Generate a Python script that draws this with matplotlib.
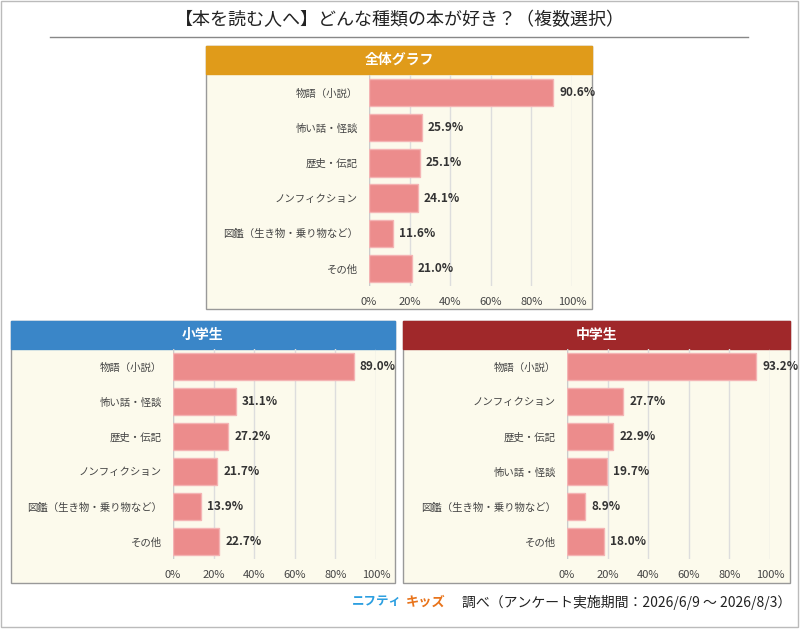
import matplotlib.pyplot as plt
from matplotlib.patches import Rectangle

plt.rcParams['font.family'] = ['Noto Sans CJK JP', 'DejaVu Sans']

W, H = 800, 629

all_cats = ['物語（小説）', '怖い話・怪談', '歴史・伝記', 'ノンフィクション', '図鑑（生き物・乗り物など）', 'その他']
all_vals = [90.6, 25.9, 25.1, 24.1, 11.6, 21.0]
elem_cats = ['物語（小説）', '怖い話・怪談', '歴史・伝記', 'ノンフィクション', '図鑑（生き物・乗り物など）', 'その他']
elem_vals = [89.0, 31.1, 27.2, 21.7, 13.9, 22.7]
mid_cats = ['物語（小説）', 'ノンフィクション', '歴史・伝記', '怖い話・怪談', '図鑑（生き物・乗り物など）', 'その他']
mid_vals = [93.2, 27.7, 22.9, 19.7, 8.9, 18.0]
ticks = [0, 20, 40, 60, 80, 100]

fig = plt.figure(figsize=(W / 100, H / 100), dpi=100)
fig.patch.set_facecolor('white')


def px_axes(x0, y0, x1, y1, **kw):
    return fig.add_axes([x0 / W, 1 - y1 / H, (x1 - x0) / W, (y1 - y0) / H], **kw)


# outer frame
fr = px_axes(0, 0, W, H)
fr.set_xlim(0, W); fr.set_ylim(H, 0); fr.axis('off')
fr.add_patch(Rectangle((1, 1), W - 3, H - 3, fill=False, ec='#bbbbbb', lw=1))
fr.text(400, 20, '【本を読む人へ】どんな種類の本が好き？（複数選択）', ha='center', va='center', fontsize=13, color='#222')
fr.plot([50, 748], [37, 37], color='#888', lw=1)
fr.text(402, 602, 'ニフティ', ha='right', va='center', fontsize=9, color='#2a9ee0', fontweight='bold')
fr.text(406, 602, 'キッズ', ha='left', va='center', fontsize=9.5, color='#e8731a', fontweight='bold')
fr.text(462, 602, '調べ（アンケート実施期間：2026/6/9 ～ 2026/8/3）', ha='left', va='center', fontsize=10, color='#222')


def panel(box, head_col, title, cats, vals, px0, px1, py0, py1):
    bx0, by0, bx1, by1 = box
    fr.add_patch(Rectangle((bx0, by0), bx1 - bx0, by1 - by0, fc='#fcfaec', ec='#999', lw=1, zorder=1))
    fr.add_patch(Rectangle((bx0, by0), bx1 - bx0, 28, fc=head_col, ec=head_col, lw=1, zorder=2))
    fr.text((bx0 + bx1) / 2, by0 + 14, title, ha='center', va='center', fontsize=10, color='white', fontweight='bold', zorder=3)
    ax = px_axes(px0, py0, px1, py1)
    ax.patch.set_alpha(0)
    y = range(len(cats))
    ax.barh(y, vals, height=0.78, color='#ec8c8c', edgecolor='#f4b4b4', zorder=3)
    for i, v in enumerate(vals):
        ax.text(v + 3, i, f'{v:.1f}%', va='center', ha='left', fontsize=8.5, fontweight='bold', color='#333', zorder=4)
    ax.set_xlim(0, 100)
    ax.set_ylim(len(cats) - 0.5, -0.5)
    ax.set_yticks(list(y))
    ax.set_yticklabels(cats, fontsize=7.5, color='#444')
    ax.set_xticks(ticks)
    ax.set_xticklabels([f'{t}%' for t in ticks], fontsize=8, color='#444')
    ax.tick_params(length=0, pad=8)
    ax.grid(axis='x', color='#dddddd', lw=1, zorder=0)
    for s in ax.spines.values():
        s.set_visible(False)
    ax.axvline(0, color='#ccc', lw=1, zorder=2)


panel((206, 46, 592, 309), '#e09b1a', '全体グラフ', all_cats, all_vals, 369, 572, 75, 286)
panel((11, 321, 395, 583), '#3a86c8', '小学生', elem_cats, elem_vals, 173, 376, 349, 559)
panel((403, 321, 790, 583), '#a0282a', '中学生', mid_cats, mid_vals, 567, 770, 349, 559)

fig.savefig('out.png', dpi=100)
